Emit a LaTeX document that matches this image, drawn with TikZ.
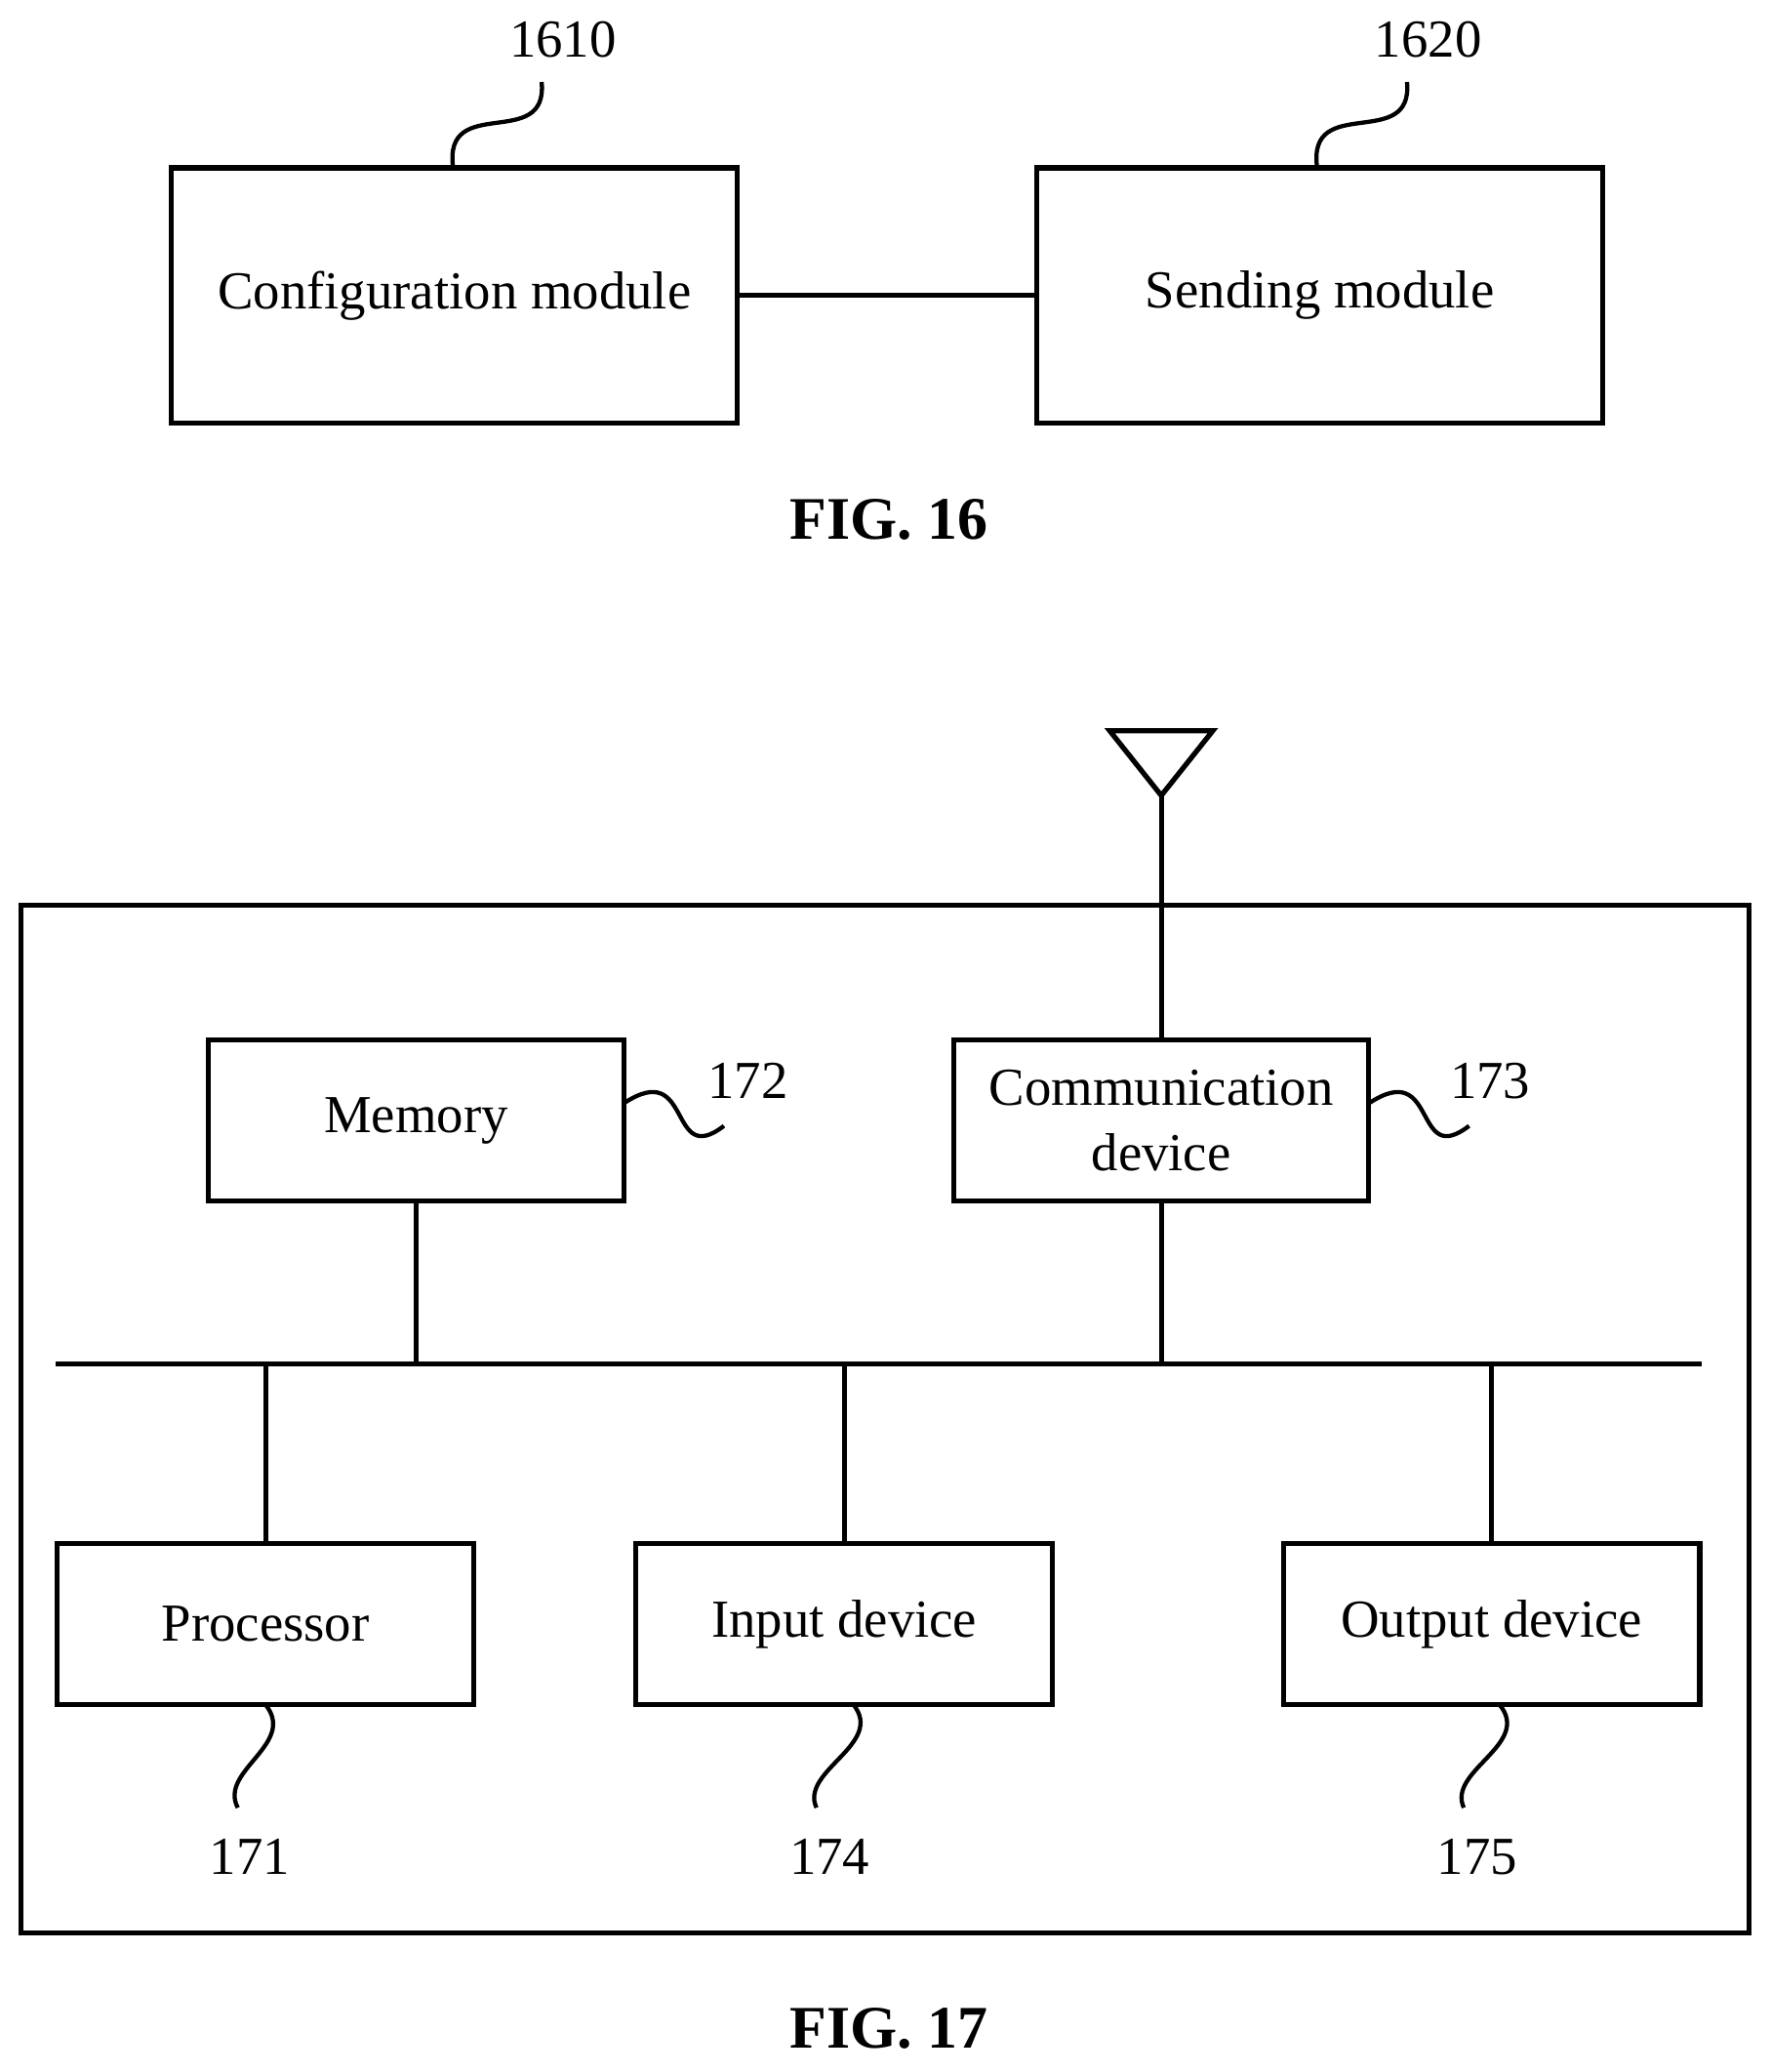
\documentclass[tikz,border=0pt]{standalone}
\usepackage{fontspec}
\setmainfont{Liberation Serif}
\begin{document}
\begin{tikzpicture}[x=0.01cm,y=-0.01cm,
  box/.style={draw,line width=1.1pt,minimum width=#1,anchor=north west,inner sep=0pt,align=center,font=\fontsize{11.5}{14}\selectfont},
  lbl/.style={font=\fontsize{11.5}{14}\selectfont},
  ln/.style={line width=1.1pt},
  sq/.style={line width=0.9pt}]
\useasboundingbox (0,0) rectangle (1340,1568);
% FIG 16
\node[draw,line width=1.1pt,minimum width=4.28cm,minimum height=1.93cm,font=\fontsize{11.5}{14}\selectfont] (cfg) at (344,223.5) {Configuration module};
\node[draw,line width=1.1pt,minimum width=4.28cm,minimum height=1.93cm,font=\fontsize{11.5}{14}\selectfont] (snd) at (999,223.5) {Sending module};
\draw[ln] (cfg) -- (snd);
\node[lbl] (l1610) at (426,30) {1610};
\node[lbl] (l1620) at (1081,30) {1620};
\coordinate (a1) at (343,127); \coordinate (b1) at (410,62);
\coordinate (a2) at (997,127); \coordinate (b2) at (1065,62);
\draw[sq] (a1) .. controls (335,70) and (415,115) .. (b1);
\draw[sq] (a2) .. controls (989,70) and (1070,115) .. (b2);
\node[font=\bfseries\fontsize{13}{15}\selectfont] (f16) at (673,393) {FIG. 16};
% FIG 17
\draw[ln] (16,685) rectangle (1324,1463);
\coordinate (t1) at (840,553); \coordinate (t2) at (918,553); \coordinate (ap) at (879,602);
\draw[ln] (t1) -- (t2) -- (ap) -- cycle;
\node[draw,line width=1.1pt,minimum width=3.14cm,minimum height=1.22cm,font=\fontsize{11.5}{14}\selectfont] (mem) at (315,848) {Memory};
\node[draw,line width=1.1pt,minimum width=3.14cm,minimum height=1.22cm,align=center,font=\fontsize{11.5}{14}\selectfont] (com) at (879,848) {Communication\\device};
\draw[ln] (ap) -- (com.north);
\coordinate (busL) at (42,1032); \coordinate (busR) at (1288,1032);
\draw[ln] (busL) -- (busR);
\node[draw,line width=1.1pt,minimum width=3.15cm,minimum height=1.22cm,font=\fontsize{11.5}{14}\selectfont] (pro) at (201,1229) {Processor};
\node[draw,line width=1.1pt,minimum width=3.15cm,minimum height=1.22cm,font=\fontsize{11.5}{14}\selectfont] (inp) at (639,1229) {Input device};
\node[draw,line width=1.1pt,minimum width=3.15cm,minimum height=1.22cm,font=\fontsize{11.5}{14}\selectfont] (out) at (1129,1229) {Output device};
\draw[ln] (mem.south) -- (mem.south |- busL);
\draw[ln] (com.south) -- (com.south |- busL);
\draw[ln] (pro.north) -- (pro.north |- busL);
\draw[ln] (inp.north) -- (inp.north |- busL);
\draw[ln] (out.north) -- (out.north |- busL);
\node[lbl] (l172) at (566,818) {172};
\node[lbl] (l173) at (1128,818) {173};
\draw[sq] (472,835) .. controls (525,800) and (505,885) .. (548,852);
\draw[sq] (1036,835) .. controls (1089,800) and (1069,885) .. (1112,852);
\node[lbl] (l171) at (189,1405) {171};
\node[lbl] (l174) at (628,1405) {174};
\node[lbl] (l175) at (1118,1405) {175};
\draw[sq] (201,1290) .. controls (225,1320) and (165,1340) .. (180,1368);
\draw[sq] (646,1290) .. controls (670,1320) and (605,1340) .. (618,1368);
\draw[sq] (1135,1290) .. controls (1160,1320) and (1095,1340) .. (1108,1368);
\node[font=\bfseries\fontsize{13}{15}\selectfont] (f17) at (673,1535) {FIG. 17};
\end{tikzpicture}
\end{document}
